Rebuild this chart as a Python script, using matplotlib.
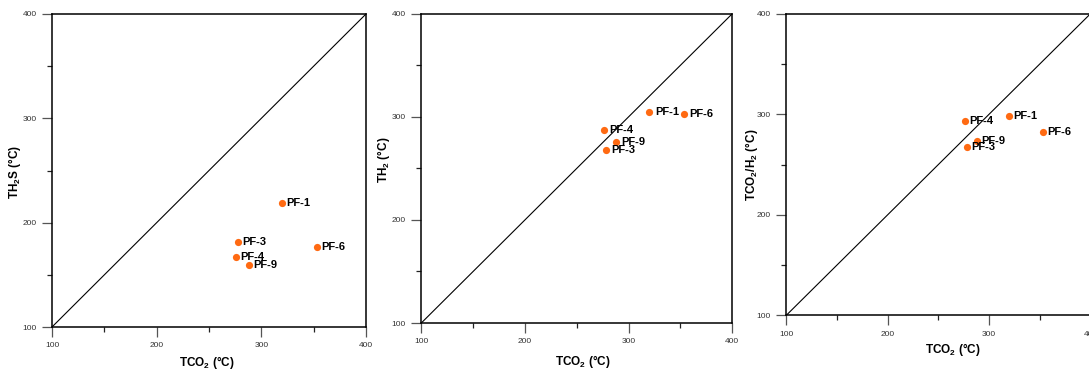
import matplotlib
matplotlib.use("Agg")
import matplotlib.pyplot as plt
from matplotlib.ticker import MultipleLocator

plt.rcParams['font.family'] = ['Liberation Sans', 'DejaVu Sans']
plt.rcParams['mathtext.fontset'] = 'custom'
plt.rcParams['mathtext.rm'] = 'Liberation Sans'
plt.rcParams['mathtext.bf'] = 'Liberation Sans:bold'
plt.rcParams['mathtext.default'] = 'bf'

samples = ["PF-1", "PF-3", "PF-4", "PF-9", "PF-6"]
t_co2 = [320, 278, 276, 288, 353]
t_h2s = [219, 181, 167, 159, 177]
t_h2 = [305, 268, 287, 276, 303]
t_co2h2 = [298, 267, 293, 273, 282]

xlabel = "TCO$_2$ (°C)"
ylabels = ["TH$_2$S (°C)", "TH$_2$ (°C)", "TCO$_2$/H$_2$ (°C)"]
yseries = [t_h2s, t_h2, t_co2h2]

W, H = 1089, 369
fig = plt.figure(figsize=(W / 100, H / 100), dpi=100)

# axes boxes in pixels: left, right, top, bottom
boxes = [(52, 366, 14, 327), (421.3, 732.3, 13.7, 323), (786.3, 1090.5, 13.7, 315.3)]
xlabel_pos = [(0.494, -0.112), (0.52, -0.123), (0.547, -0.112)]
ylabel_pos = [(-0.121, 0.495), (-0.123, 0.527), (-0.113, 0.498)]
label_off = [3, 4, 3]
orange = '#ff6a12'

for i, (l, r, t, b) in enumerate(boxes):
    ax = fig.add_axes([l / W, (H - b) / H, (r - l) / W, (b - t) / H])
    ax.set_xlim(100, 400)
    ax.set_ylim(100, 400)
    ax.plot([100, 400], [100, 400], color='black', lw=0.8, zorder=1)
    ax.scatter(t_co2, yseries[i], s=27, color=orange, zorder=3, linewidths=0)
    for name, x, y in zip(samples, t_co2, yseries[i]):
        ax.annotate(name, (x, y), xytext=(label_off[i], 0), textcoords='offset points',
                    ha='left', va='center', fontsize=8, fontweight='bold', color='black', zorder=4)
    ax.xaxis.set_major_locator(MultipleLocator(100))
    ax.yaxis.set_major_locator(MultipleLocator(100))
    ax.xaxis.set_minor_locator(MultipleLocator(50))
    ax.yaxis.set_minor_locator(MultipleLocator(50))
    ax.tick_params(which='major', direction='out', length=7, width=0.9, color='#555555',
                   labelsize=6, labelcolor='#333333', pad=4)
    ax.tick_params(which='minor', direction='out', length=3.5, width=0.9, color='#222222')
    for sp in ax.spines.values():
        sp.set_linewidth(1.1)
        sp.set_color('black')
    ax.set_xlabel(xlabel, fontsize=8.5, fontweight='bold')
    ax.xaxis.label.set_va('center')
    ax.xaxis.set_label_coords(*xlabel_pos[i])
    ax.set_ylabel(ylabels[i], fontsize=8.5, fontweight='bold')
    ax.yaxis.label.set_va('center')
    ax.yaxis.set_label_coords(*ylabel_pos[i])

fig.savefig("out.png", dpi=100)
